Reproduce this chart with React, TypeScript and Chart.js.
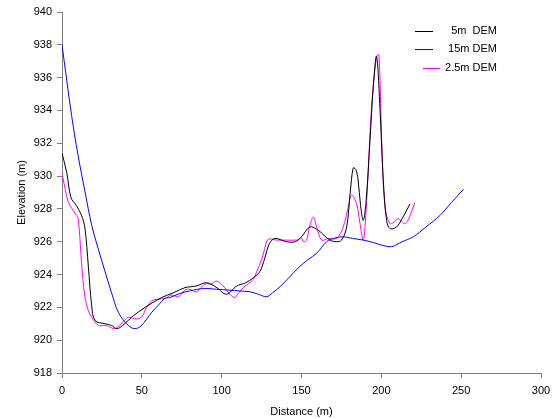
import React, { useEffect, useRef } from "react";
import { Chart, registerables } from "chart.js";

Chart.register(...registerables);

const seriesNames = ["5m  DEM", "15m DEM", "2.5m DEM"];
const seriesColors = ["#000000", "#0000FF", "#FF00FF"];

const dem5X = [0, 3, 5.6, 9, 12.3, 14.4, 16.5, 18.6, 20.7, 26.9, 31, 34.2, 38, 43.6, 52, 62.4, 70, 77, 84, 90.6, 97, 103, 109.4, 115, 119.8, 124, 127, 130, 133.4, 140.7, 146, 150, 155.3, 160.5, 164, 167.8, 172, 175.1, 178.3, 180.5, 182.4, 184, 185.4, 187, 188.7, 190.5, 192.9, 195, 197, 199.1, 201.2, 203.3, 205.4, 209.5, 213, 217.9];
const dem5Y = [931.4, 930.2, 928.7, 928.2, 927.6, 926.8, 924.5, 922.1, 921.2, 921.0, 920.9, 920.7, 920.9, 921.4, 922.0, 922.6, 922.9, 923.2, 923.3, 923.5, 923.2, 922.8, 923.3, 923.5, 923.8, 924.2, 925.0, 925.9, 926.2, 926.0, 926.0, 926.3, 926.9, 926.7, 926.4, 926.1, 926.0, 926.1, 926.9, 929.0, 930.5, 930.4, 929.8, 928.2, 927.3, 928.5, 932.2, 935.5, 937.3, 934.2, 929.8, 927.3, 926.8, 926.9, 927.4, 928.3];

const dem15X = [0, 6, 10, 14.4, 18.6, 22, 26.9, 31, 35.3, 41.5, 45.7, 49.8, 56.2, 60, 64.5, 67.6, 73.9, 80, 88.5, 97, 105.2, 111, 117.7, 123, 128.2, 132, 136.5, 142, 149, 154, 159.5, 165.7, 170, 176.1, 182, 188.7, 195, 200, 206.4, 213, 220, 228, 236.7, 244, 251.5];
const dem15Y = [938.0, 933.7, 931.3, 929.05, 927.0, 925.8, 924.2, 922.9, 921.7, 920.9, 920.7, 920.9, 921.7, 922.1, 922.55, 922.6, 922.85, 923.0, 923.15, 923.1, 923.05, 923.0, 922.95, 922.8, 922.65, 922.9, 923.25, 923.8, 924.5, 924.9, 925.3, 926.0, 926.2, 926.3, 926.2, 926.1, 925.95, 925.8, 925.7, 926.0, 926.3, 926.9, 927.6, 928.4, 929.2];

const dem25X = [0, 2, 4, 7, 9.2, 10.2, 11.9, 13, 14.4, 16.5, 18.6, 22.7, 26.9, 29, 32.1, 34.2, 38, 41.5, 45.7, 49.8, 53, 56.2, 60, 64.5, 68.7, 72.9, 77, 80, 84.3, 87, 90.6, 93, 96.9, 100, 103.1, 105, 108.3, 110, 113.5, 119.8, 122, 125, 127, 129.2, 134.4, 140, 146.9, 150, 151.5, 153.2, 155, 157.4, 159.5, 162.6, 166.8, 172, 176.1, 179, 181.4, 184.5, 186.5, 188.7, 190.5, 193.9, 197, 198.5, 200.2, 202.3, 205.4, 208, 210.6, 214.8, 218, 221];
const dem25Y = [930.2, 929.2, 928.4, 927.9, 927.6, 927.4, 925.2, 923.8, 922.6, 921.8, 921.4, 920.9, 920.9, 920.85, 920.7, 920.75, 921.1, 921.4, 921.3, 921.4, 922.0, 922.4, 922.5, 922.55, 922.75, 922.65, 923.05, 923.1, 922.95, 923.2, 923.45, 923.4, 923.6, 923.4, 923.05, 922.8, 922.6, 922.8, 923.2, 923.7, 924.2, 924.9, 925.6, 926.15, 926.1, 926.1, 926.1, 926.2, 926.0, 926.1, 926.9, 927.5, 926.9, 926.1, 926.2, 926.2, 926.9, 928.0, 928.85, 928.3, 927.2, 926.1, 928.0, 934.2, 937.3, 937.4, 932.2, 928.1, 927.1, 927.2, 927.4, 927.1, 927.6, 928.4];

const xTickMin = 0;
const xTickMax = 300;
const xTickStep = 50;
const yTickMin = 918;
const yTickMax = 940;
const yTickStep = 2;

const toPoints = (xs: number[], ys: number[]) => xs.map((x, i) => ({ x, y: ys[i] }));

const FONT = "'Liberation Sans', Arial, sans-serif";

const legendPlugin = {
  id: "customLegend",
  afterDraw(chart: any) {
    const ctx = chart.ctx;
    const rows = [
      { y: 31, x1: 415, x2: 433 },
      { y: 49, x1: 415, x2: 433 },
      { y: 68, x1: 423, x2: 440 },
    ];
    ctx.save();
    ctx.font = `11px ${FONT}`;
    ctx.textAlign = "right";
    ctx.textBaseline = "middle";
    seriesNames.forEach((name, i) => {
      const r = rows[i];
      ctx.strokeStyle = seriesColors[i];
      ctx.lineWidth = 1;
      ctx.beginPath();
      ctx.moveTo(r.x1, r.y + 0.5);
      ctx.lineTo(r.x2, r.y + 0.5);
      ctx.stroke();
      ctx.fillStyle = "#000000";
      ctx.fillText(name, 497, r.y);
    });
    ctx.restore();
  },
};

export default function App() {
  const canvasRef = useRef<HTMLCanvasElement | null>(null);

  useEffect(() => {
    document.body.style.margin = "0";
    const canvas = canvasRef.current;
    if (!canvas) return;
    const datasets = [
      { xs: dem5X, ys: dem5Y },
      { xs: dem15X, ys: dem15Y },
      { xs: dem25X, ys: dem25Y },
    ].map((s, i) => ({
      label: seriesNames[i],
      data: toPoints(s.xs, s.ys),
      borderColor: seriesColors[i],
      backgroundColor: seriesColors[i],
      borderWidth: 1,
      pointRadius: 0,
      tension: 0.35,
      fill: false,
    }));

    const chart = new Chart(canvas, {
      type: "line",
      data: { datasets },
      plugins: [legendPlugin],
      options: {
        animation: false,
        responsive: false,
        maintainAspectRatio: false,
        layout: { padding: { top: 12, right: 16, left: 0, bottom: 0 } },
        plugins: {
          legend: { display: false },
          tooltip: { enabled: false },
        },
        scales: {
          x: {
            type: "linear",
            min: xTickMin,
            max: xTickMax,
            afterFit: (scale: any) => {
              scale.height = 46;
            },
            ticks: {
              stepSize: xTickStep,
              color: "#000000",
              font: { family: FONT, size: 11 },
              padding: 6,
              maxRotation: 0,
            },
            grid: {
              display: true,
              drawOnChartArea: false,
              drawTicks: true,
              tickLength: 5,
              color: "#808080",
            },
            border: { display: true, color: "#808080", width: 1 },
            title: {
              display: true,
              text: "Distance (m)",
              color: "#000000",
              font: { family: FONT, size: 11 },
              padding: { top: 3, bottom: 0 },
            },
          },
          y: {
            type: "linear",
            min: yTickMin,
            max: yTickMax,
            afterFit: (scale: any) => {
              scale.width = 62;
            },
            ticks: {
              stepSize: yTickStep,
              color: "#000000",
              font: { family: FONT, size: 11 },
              padding: 5,
            },
            grid: {
              display: true,
              drawOnChartArea: false,
              drawTicks: true,
              tickLength: 5,
              color: "#808080",
            },
            border: { display: true, color: "#808080", width: 1 },
            title: {
              display: true,
              text: "Elevation (m)",
              color: "#000000",
              font: { family: FONT, size: 11 },
              padding: { top: 15, bottom: 0 },
            },
          },
        },
      },
    });
    return () => chart.destroy();
  }, []);

  return (
    <div style={{ position: "absolute", left: 0, top: 0, width: 557, height: 419, background: "#ffffff" }}>
      <canvas ref={canvasRef} width={557} height={419} style={{ display: "block", width: 557, height: 419 }} />
    </div>
  );
}
